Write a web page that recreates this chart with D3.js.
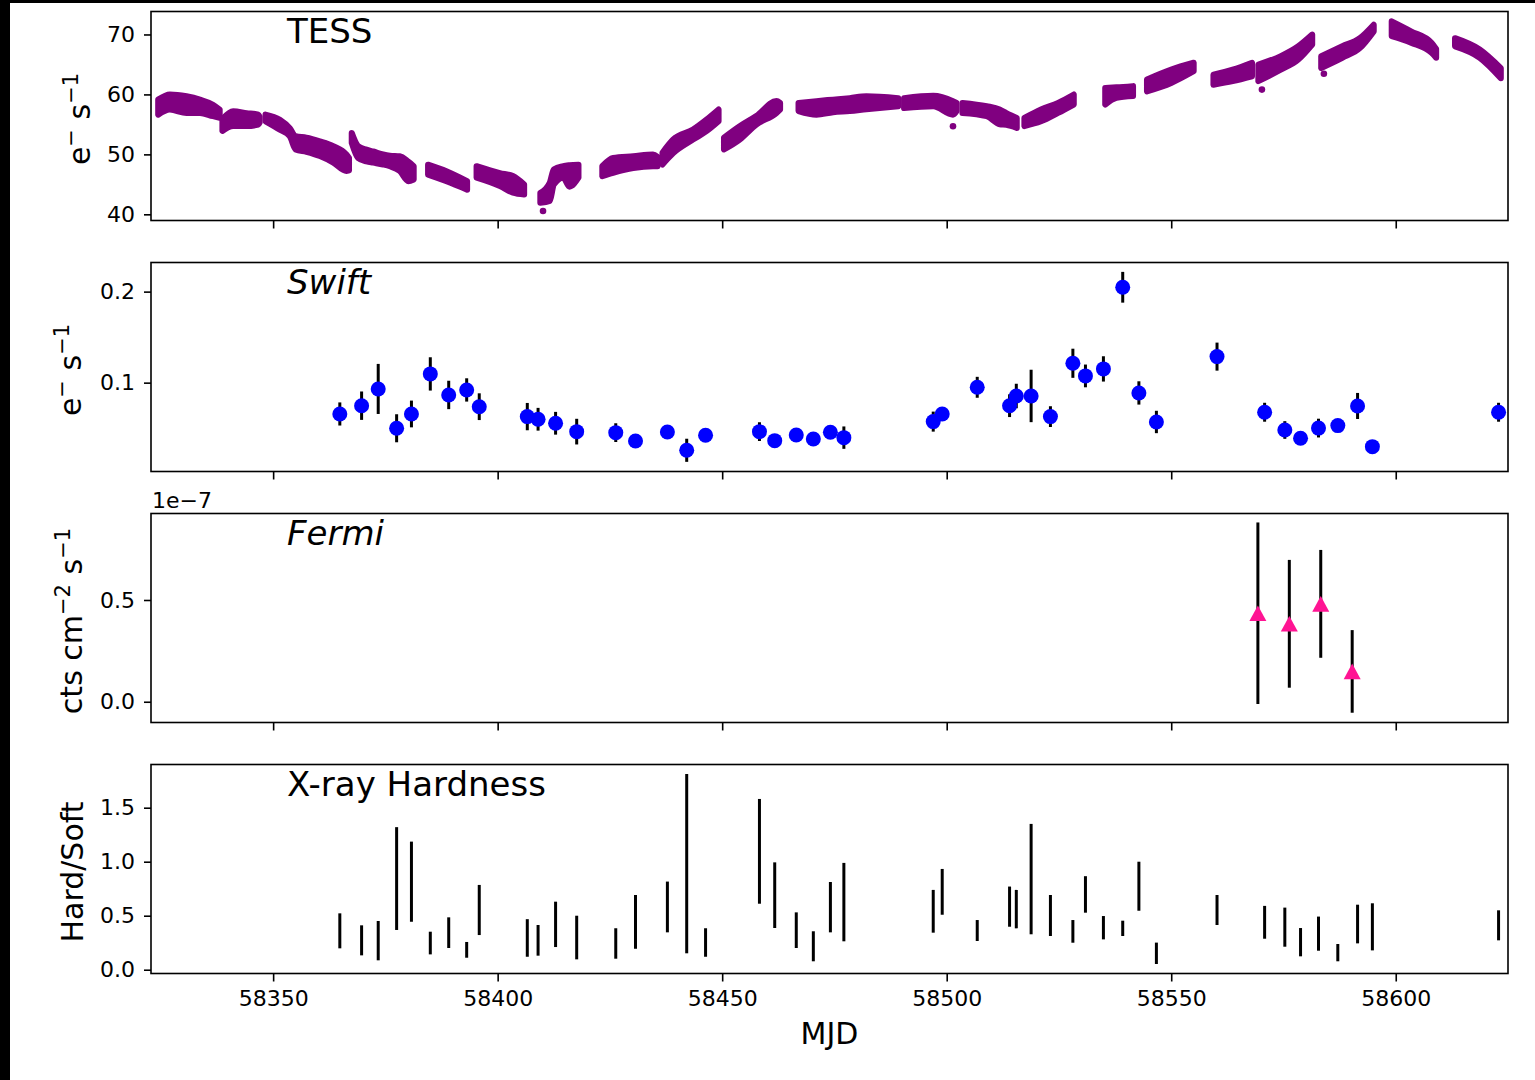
<!DOCTYPE html>
<html>
<head>
<meta charset="utf-8">
<script src="https://cdn.jsdelivr.net/npm/d3@7"></script>
<style>
body { margin: 0; background: #000; }
svg { display: block; }
text { font-family: "DejaVu Sans", sans-serif; }
</style>
</head>
<body>
<svg id="fig" width="1535" height="1080"></svg>
<script>
// TESS light curve: each segment is a list of [MJD, lower edge, upper edge]
var tessBands = [
  [[58324.4, 56.2, 59.55], [58327.0, 57.05, 60.4], [58330.7, 56.5, 60.1], [58333.7, 56.5, 59.55], [58336.6, 55.95, 58.7], [58338.1, 55.7, 57.9]],
  [[58338.7, 53.5, 56.3], [58341.1, 54.3, 57.6], [58344.1, 54.3, 57.3], [58346.7, 54.55, 57.05], [58347.0, 54.9, 56.7]],
  [[58348.3, 55.1, 57.05], [58351.5, 53.7, 56.2], [58353.7, 52.6, 54.8], [58355.0, 50.4, 53.45], [58357.4, 50.0, 53.2], [58360.4, 49.3, 52.6], [58363.4, 48.2, 51.8], [58366.3, 46.8, 50.4], [58366.9, 46.9, 49.8]],
  [[58367.5, 51.5, 54.0], [58368.9, 49.0, 51.8], [58370.8, 48.4, 51.2], [58372.3, 48.2, 50.9], [58374.5, 47.9, 50.4], [58376.0, 47.6, 50.2], [58378.2, 46.8, 50.1], [58380.1, 45.1, 49.2], [58381.3, 45.4, 48.45]],
  [[58384.5, 46.2, 48.7], [58388.6, 45.1, 47.6], [58393.2, 43.7, 45.95]],
  [[58395.3, 45.7, 48.45], [58400.5, 44.3, 47.3], [58403.4, 43.2, 46.8], [58405.9, 42.9, 45.4]],
  [[58409.5, 41.5, 44.0], [58411.6, 41.8, 45.7], [58412.5, 44.55, 47.9], [58414.6, 45.7, 48.45], [58416.0, 44.2, 48.6], [58418.0, 45.7, 48.7]],
  [[58423.3, 45.95, 48.45], [58425.7, 46.5, 49.8], [58430.2, 47.3, 50.1], [58434.6, 47.6, 50.4], [58435.6, 47.6, 50.0]],
  [[58436.7, 47.9, 50.7], [58439.1, 49.8, 52.9], [58443.5, 52.05, 54.55], [58446.5, 53.45, 56.2], [58449.2, 55.1, 57.9]],
  [[58450.4, 50.4, 53.2], [58453.9, 52.05, 55.1], [58457.6, 54.55, 56.8], [58462.1, 56.5, 59.3], [58462.9, 57.05, 59.0]],
  [[58467.0, 56.8, 59.0], [58471.0, 56.2, 59.3], [58474.7, 56.6, 59.55], [58478.4, 56.8, 59.8], [58482.1, 57.1, 60.1], [58489.2, 57.6, 59.8]],
  [[58490.5, 57.3, 59.8], [58497.0, 57.6, 60.2], [58501.4, 56.2, 59.3], [58502.2, 56.8, 59.0]],
  [[58503.5, 56.5, 59.0], [58508.9, 55.95, 58.45], [58511.8, 54.6, 57.9], [58513.3, 54.5, 57.3], [58515.6, 54.0, 56.5]],
  [[58517.3, 54.3, 56.5], [58521.0, 55.1, 57.9], [58524.8, 56.5, 59.0], [58528.3, 57.9, 60.4]],
  [[58535.3, 57.9, 61.5], [58537.8, 59.0, 61.6], [58541.5, 59.3, 61.8]],
  [[58544.6, 60.1, 62.9], [58550.0, 61.5, 64.55], [58555.0, 63.45, 65.7]],
  [[58559.4, 61.2, 63.7], [58563.7, 61.8, 64.55], [58568.0, 62.6, 65.7]],
  [[58569.4, 61.8, 65.4], [58574.4, 63.7, 66.8], [58578.3, 65.4, 68.45], [58581.4, 67.9, 70.4]],
  [[58583.4, 64.0, 66.8], [58588.1, 65.7, 68.45], [58592.0, 67.3, 69.8], [58595.1, 70.1, 72.05]],
  [[58599.1, 69.3, 72.6], [58603.4, 68.2, 70.95], [58608.0, 66.5, 69.0], [58609.0, 65.7, 68.0]],
  [[58613.2, 67.6, 69.8], [58618.7, 65.7, 67.9], [58623.4, 62.3, 64.8]]
];
var tessOutliers = [[58410.1, 40.55], [58501.4, 54.7], [58570.2, 60.8], [58584.0, 63.45]];

// Swift XRT observations
var swiftMjd = [58364.85, 58369.7, 58373.4, 58377.5, 58380.8, 58385.0, 58389.1, 58393.1, 58395.9,
  58406.6, 58409.0, 58412.9, 58417.6, 58426.3, 58430.7, 58437.8, 58442.1, 58446.3, 58458.3,
  58461.7, 58466.5, 58470.3, 58474.1, 58477.1, 58497.0, 58499.0, 58506.8, 58514.0, 58515.5,
  58518.8, 58523.1, 58528.1, 58530.9, 58534.9, 58539.2, 58542.8, 58546.7, 58560.2, 58570.8,
  58575.3, 58578.8, 58582.8, 58587.1, 58591.5, 58594.8, 58622.9];
var swiftRate = [0.0656, 0.0747, 0.0931, 0.0499, 0.0656, 0.1096, 0.0865, 0.092, 0.0736,
  0.0627, 0.0598, 0.0554, 0.0462, 0.0451, 0.0359, 0.0458, 0.0257, 0.0422, 0.0462,
  0.0363, 0.0425, 0.0381, 0.0455, 0.0396, 0.0572, 0.0656, 0.0949, 0.0747, 0.0854,
  0.0854, 0.0627, 0.1213, 0.1074, 0.1151, 0.2048, 0.0887, 0.0568, 0.1286, 0.0675,
  0.048, 0.0389, 0.0501, 0.0528, 0.0744, 0.0297, 0.0675];
var swiftErr = [0.0127, 0.0156, 0.0275, 0.0154, 0.0147, 0.0183, 0.0156, 0.0128, 0.0147,
  0.015, 0.0125, 0.0125, 0.0141, 0.0103, 0.006, 0.006, 0.0127, 0.006, 0.0103,
  0.006, 0.006, 0.006, 0.006, 0.0123, 0.011, 0.006, 0.0115, 0.0125, 0.0134,
  0.0288, 0.0114, 0.016, 0.0125, 0.0139, 0.0169, 0.0128, 0.0123, 0.0154, 0.0104,
  0.0097, 0.005, 0.0103, 0.006, 0.0143, 0.005, 0.0104];

// Fermi LAT
var fermiMjd = [58569.3, 58576.3, 58583.3, 58590.3];
var fermiFlux = [4.35e-8, 3.83e-8, 4.81e-8, 1.49e-8];
var fermiErr = [4.46e-8, 3.14e-8, 2.65e-8, 2.03e-8];

// X-ray hardness ratio (same epochs as Swift)
var hardVal = [0.36, 0.272, 0.269, 0.844, 0.815, 0.247, 0.343, 0.184, 0.553,
  0.294, 0.272, 0.42, 0.298, 0.243, 0.443, 0.581, 0.982, 0.252, 1.096,
  0.69, 0.366, 0.217, 0.579, 0.626, 0.541, 0.721, 0.363, 0.584, 0.561,
  0.839, 0.502, 0.355, 0.697, 0.389, 0.383, 0.773, 0.152, 0.553, 0.439,
  0.394, 0.255, 0.334, 0.158, 0.423, 0.397, 0.411];
var hardErr = [0.162, 0.139, 0.182, 0.476, 0.371, 0.105, 0.142, 0.073, 0.232,
  0.174, 0.142, 0.21, 0.202, 0.141, 0.249, 0.235, 0.83, 0.132, 0.485,
  0.304, 0.165, 0.139, 0.233, 0.363, 0.198, 0.212, 0.097, 0.186, 0.178,
  0.511, 0.19, 0.105, 0.169, 0.108, 0.071, 0.227, 0.099, 0.139, 0.152,
  0.181, 0.131, 0.158, 0.08, 0.179, 0.218, 0.139];

var xTicks = [58350, 58400, 58450, 58500, 58550, 58600];

var svg = d3.select("#fig");
svg.append("rect").attr("x", 10).attr("y", 3).attr("width", 1525).attr("height", 1077).attr("fill", "#fff");

var left = 151, right = 1508, panelH = 209;
var tops = [11.5, 262.5, 513.5, 764.5];

var xScale = d3.scaleLinear().domain([58322.8, 58625]).range([left, right]);

function makePanel(i, domain, ticks, fmt) {
  var top = tops[i];
  var y = d3.scaleLinear().domain(domain).range([top + panelH, top]);
  var g = svg.append("g");
  return { g: g, y: y, top: top, ticks: ticks, fmt: fmt };
}

function finishPanel(p, showX) {
  var yAxis = svg.append("g")
    .attr("transform", "translate(" + left + ",0)")
    .call(d3.axisLeft(p.y).tickValues(p.ticks).tickSize(7).tickPadding(9).tickFormat(p.fmt));
  var xAxis = svg.append("g")
    .attr("transform", "translate(0," + (p.top + panelH) + ")")
    .call(d3.axisBottom(xScale).tickValues(xTicks).tickSize(8).tickPadding(8.5)
      .tickFormat(showX ? d3.format("d") : ""));
  [yAxis, xAxis].forEach(function(a) {
    a.select(".domain").remove();
    a.selectAll(".tick line").attr("stroke", "#000").attr("stroke-width", 1.6);
    a.selectAll(".tick text").attr("font-size", 22).attr("fill", "#000")
      .attr("font-family", "DejaVu Sans");
  });
  svg.append("rect")
    .attr("x", left).attr("y", p.top).attr("width", right - left).attr("height", panelH)
    .attr("fill", "none").attr("stroke", "#000").attr("stroke-width", 1.6);
}

function title(p, txt, italic) {
  svg.append("text").attr("x", 287).attr("y", p.top + 31.5)
    .attr("font-size", 34).attr("font-style", italic ? "italic" : "normal")
    .text(txt);
}

function ylabel(p, xb, parts) {
  var t = svg.append("text")
    .attr("transform", "translate(" + xb + "," + (p.top + panelH / 2 + 3) + ") rotate(-90)")
    .attr("text-anchor", "middle").attr("font-size", 30);
  var up = false;
  parts.forEach(function(s) {
    var sup = s[1];
    var ts = t.append("tspan").text(s[0]);
    if (sup && !up) { ts.attr("dy", -12).attr("font-size", 21); up = true; }
    else if (sup) { ts.attr("font-size", 21); }
    else if (up) { ts.attr("dy", 12); up = false; }
  });
}

// Panel 1: TESS (bands are inset by the dot radius, then stroked round to mimic the dot cloud)
var p1 = makePanel(0, [38.97, 73.83], [40, 50, 60, 70], d3.format("d"));
var area = d3.area()
  .x(function(d) { return xScale(d[0]); })
  .y0(function(d) { return p1.y(d[1]) - 2.5; })
  .y1(function(d) { return p1.y(d[2]) + 2.5; })
  .curve(d3.curveMonotoneX);
p1.g.selectAll("path.band").data(tessBands).enter().append("path")
  .attr("class", "band")
  .attr("d", area)
  .attr("fill", "purple").attr("stroke", "purple")
  .attr("stroke-width", 6).attr("stroke-linejoin", "round");
p1.g.selectAll("circle").data(tessOutliers).enter().append("circle")
  .attr("cx", function(d) { return xScale(d[0]); })
  .attr("cy", function(d) { return p1.y(d[1]); })
  .attr("r", 3.3).attr("fill", "purple");
finishPanel(p1, false);
title(p1, "TESS", false);
ylabel(p1, 90, [["e", false], ["\u2212", true], [" s", false], ["\u22121", true]]);

// Panel 2: Swift
var p2 = makePanel(1, [0.0024, 0.232], [0.1, 0.2], d3.format(".1f"));
var swift = swiftMjd.map(function(m, i) { return { t: m, v: swiftRate[i], e: swiftErr[i] }; });
p2.g.selectAll("line").data(swift).enter().append("line")
  .attr("x1", function(d) { return xScale(d.t); })
  .attr("x2", function(d) { return xScale(d.t); })
  .attr("y1", function(d) { return p2.y(d.v - d.e); })
  .attr("y2", function(d) { return p2.y(d.v + d.e); })
  .attr("stroke", "#000").attr("stroke-width", 3);
p2.g.selectAll("circle").data(swift).enter().append("circle")
  .attr("cx", function(d) { return xScale(d.t); })
  .attr("cy", function(d) { return p2.y(d.v); })
  .attr("r", 7.5).attr("fill", "blue");
finishPanel(p2, false);
title(p2, "Swift", true);
ylabel(p2, 81, [["e", false], ["\u2212", true], [" s", false], ["\u22121", true]]);

// Panel 3: Fermi
var p3 = makePanel(2, [-0.102e-7, 0.925e-7], [0, 0.5e-7], function(d) { return (d / 1e-7).toFixed(1); });
var fermi = fermiMjd.map(function(m, i) { return { t: m, v: fermiFlux[i], e: fermiErr[i] }; });
p3.g.selectAll("line").data(fermi).enter().append("line")
  .attr("x1", function(d) { return xScale(d.t); })
  .attr("x2", function(d) { return xScale(d.t); })
  .attr("y1", function(d) { return p3.y(d.v - d.e); })
  .attr("y2", function(d) { return p3.y(d.v + d.e); })
  .attr("stroke", "#000").attr("stroke-width", 3);
p3.g.selectAll("path").data(fermi).enter().append("path")
  .attr("d", "M0,-7.8L8.5,7.8L-8.5,7.8Z")
  .attr("transform", function(d) { return "translate(" + xScale(d.t) + "," + p3.y(d.v) + ")"; })
  .attr("fill", "deeppink");
finishPanel(p3, false);
title(p3, "Fermi", true);
ylabel(p3, 81.5, [["cts cm", false], ["\u22122", true], [" s", false], ["\u22121", true]]);
svg.append("text").attr("x", 152).attr("y", 508).attr("font-size", 22).text("1e\u22127");

// Panel 4: hardness
var p4 = makePanel(3, [-0.035, 1.90], [0, 0.5, 1.0, 1.5], d3.format(".1f"));
var hard = swiftMjd.map(function(m, i) { return { t: m, v: hardVal[i], e: hardErr[i] }; });
p4.g.selectAll("line").data(hard).enter().append("line")
  .attr("x1", function(d) { return xScale(d.t); })
  .attr("x2", function(d) { return xScale(d.t); })
  .attr("y1", function(d) { return p4.y(d.v - d.e); })
  .attr("y2", function(d) { return p4.y(d.v + d.e); })
  .attr("stroke", "#000").attr("stroke-width", 3);
finishPanel(p4, true);
title(p4, "X-ray Hardness", false);
ylabel(p4, 83.3, [["Hard/Soft", false]]);

svg.append("text").attr("x", (left + right) / 2).attr("y", 1044)
  .attr("text-anchor", "middle").attr("font-size", 30).text("MJD");
</script>
</body>
</html>
